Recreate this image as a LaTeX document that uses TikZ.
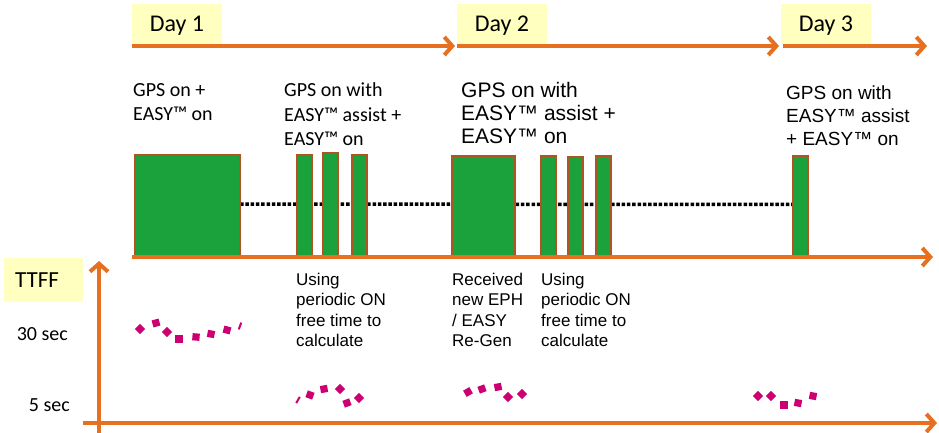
\documentclass[tikz,border=0pt]{standalone}
\usepackage{fontspec}
\setmainfont{Liberation Sans}
\newfontfamily\calfont{Carlito}
\newfontfamily\arifont{Liberation Sans}
\usetikzlibrary{arrows.meta,backgrounds}
\definecolor{arrOr}{RGB}{230,112,32}
\definecolor{boxBr}{RGB}{176,84,34}
\definecolor{boxGr}{RGB}{28,162,60}
\definecolor{labYe}{RGB}{255,255,192}
\definecolor{dotMg}{RGB}{204,0,112}
\tikzset{
  tline/.style={draw=arrOr, line width=4pt, -{Straight Barb[length=8pt,width=18pt]}},
  daybox/.style={fill=labYe, minimum width=90pt, minimum height=40pt, inner sep=0pt,
    font=\calfont\fontsize{24}{28}\selectfont, text height=15.5pt, text depth=0pt},
  gbox/.style={draw=boxBr, fill=boxGr, line width=2.5pt, inner sep=0pt, outer sep=0pt,
    minimum width=15pt, anchor=south west},
  dotline/.style={draw=black, line width=3.5pt, dash pattern=on 3.5pt off 1.8pt},
  txt/.style={anchor=base west, align=left, inner sep=0pt},
  caltxt/.style={txt, font=\calfont\fontsize{20}{24}\selectfont},
  aritxtL/.style={txt, font=\arifont\fontsize{21}{23}\selectfont},
  aritxtM/.style={txt, font=\arifont\fontsize{19}{22.5}\selectfont},
  aritxtS/.style={txt, font=\arifont\fontsize{17}{20.5}\selectfont},
  axlab/.style={anchor=base east, inner sep=0pt, font=\calfont\fontsize{20}{24}\selectfont},
  mdot/.style={fill=dotMg},
}
\begin{document}
\begin{tikzpicture}[x=1pt,y=-1pt]
\useasboundingbox (0,0) rectangle (939,433);

% day labels
\node[daybox] (day1) at (177,24) {Day 1};
\node[daybox] (day2) at (502,24) {Day 2};
\node[daybox] (day3) at (826,24) {Day 3};

% top timeline
\coordinate (a1s) at (132,46); \coordinate (a1e) at (455,46);
\coordinate (a2s) at (457,46); \coordinate (a2e) at (779,46);
\coordinate (a3s) at (783,46); \coordinate (a3e) at (927,46);
\draw[tline] (a1s) -- (a1e);
\draw[tline] (a2s) -- (a2e);
\draw[tline] (a3s) -- (a3e);

% upper texts (positioned at the baseline of their last line)
\node[caltxt] (t1) at (133,121) {GPS on +\\EASY™ on};
\node[caltxt] (t2) at (284,145) {GPS on with\\EASY™ assist +\\EASY™ on};
\node[aritxtL] (t3) at (461,143) {GPS on with\\EASY™ assist +\\EASY™ on};
\node[aritxtM] (t4) at (786,145) {GPS on with\\EASY™ assist\\+ EASY™ on};

% green boxes
\node[gbox, minimum width=105pt, minimum height=102pt] (b1) at (135,257) {};
\node[gbox, minimum height=102pt] (b2) at (297,257) {};
\node[gbox, minimum height=104pt] (b3) at (323,257) {};
\node[gbox, minimum height=102pt] (b4) at (352,257) {};
\node[gbox, minimum width=63pt, minimum height=101pt] (b5) at (452,257) {};
\node[gbox, minimum height=101pt] (b6) at (541,257) {};
\node[gbox, minimum height=100pt] (b7) at (568,257) {};
\node[gbox, minimum height=101pt] (b8) at (596,257) {};
\node[gbox, minimum height=101pt] (b9) at (793,257) {};

\begin{scope}[on background layer]
  \draw[dotline] ([yshift=2pt]b1.east) -- ([yshift=2pt]b9.west);
\end{scope}

% bottom timeline
\coordinate (tls) at (132,257); \coordinate (tle) at (933,257);
\draw[tline] (tls) -- (tle);

% lower texts (positioned at the baseline of their last line)
\node[aritxtS] (t5) at (296,346.5) {Using\\periodic ON\\free time to\\calculate};
\node[aritxtS] (t6) at (452,346.5) {Received\\new EPH\\/ EASY\\Re-Gen};
\node[aritxtS] (t7) at (541,346.5) {Using\\periodic ON\\free time to\\calculate};

% TTFF axis
\node[fill=labYe, anchor=north west, text width=57pt, inner xsep=11pt, inner ysep=0pt,
  minimum height=44pt, align=left, font=\calfont\fontsize{23}{26}\selectfont,
  text height=14.5pt, text depth=0pt] (ttff) at (4,258) {TTFF};
\node[axlab] (s30) at (68,340) {30 sec};
\node[axlab] (s5) at (70,411) {5 sec};
\coordinate (yb) at (99,433); \coordinate (yt) at (99,261);
\coordinate (xl) at (83,423); \coordinate (xr) at (937,423);
\draw[tline] (yb) -- (yt);
\draw[tline] (xl) -- (xr);

% magenta dots
\foreach \x/\y/\a in {140/329/45, 156/323/15, 167/332/45, 179/339/0, 196/337/-5, 211/334/-10, 227/330/-15,
  310/395/-20, 324/389/10, 340/389/45, 347/403/20, 359/398/45,
  468/392/30, 482/389/20, 498/387/10, 508/397/45, 522/394/45,
  758/396/45, 771/396/45, 784/405/0, 798/403/-10, 813/396/-10}
  \fill[mdot, rotate around={\a:(\x,\y)}] (\x-3.6,\y-3.6) rectangle (\x+3.6,\y+3.6);
\foreach \x/\y/\a in {240/326/-20, 298/400/-30}
  \fill[mdot, rotate around={\a:(\x,\y)}] (\x-1,\y-3.6) rectangle (\x+1,\y+3.6);
\end{tikzpicture}
\end{document}
